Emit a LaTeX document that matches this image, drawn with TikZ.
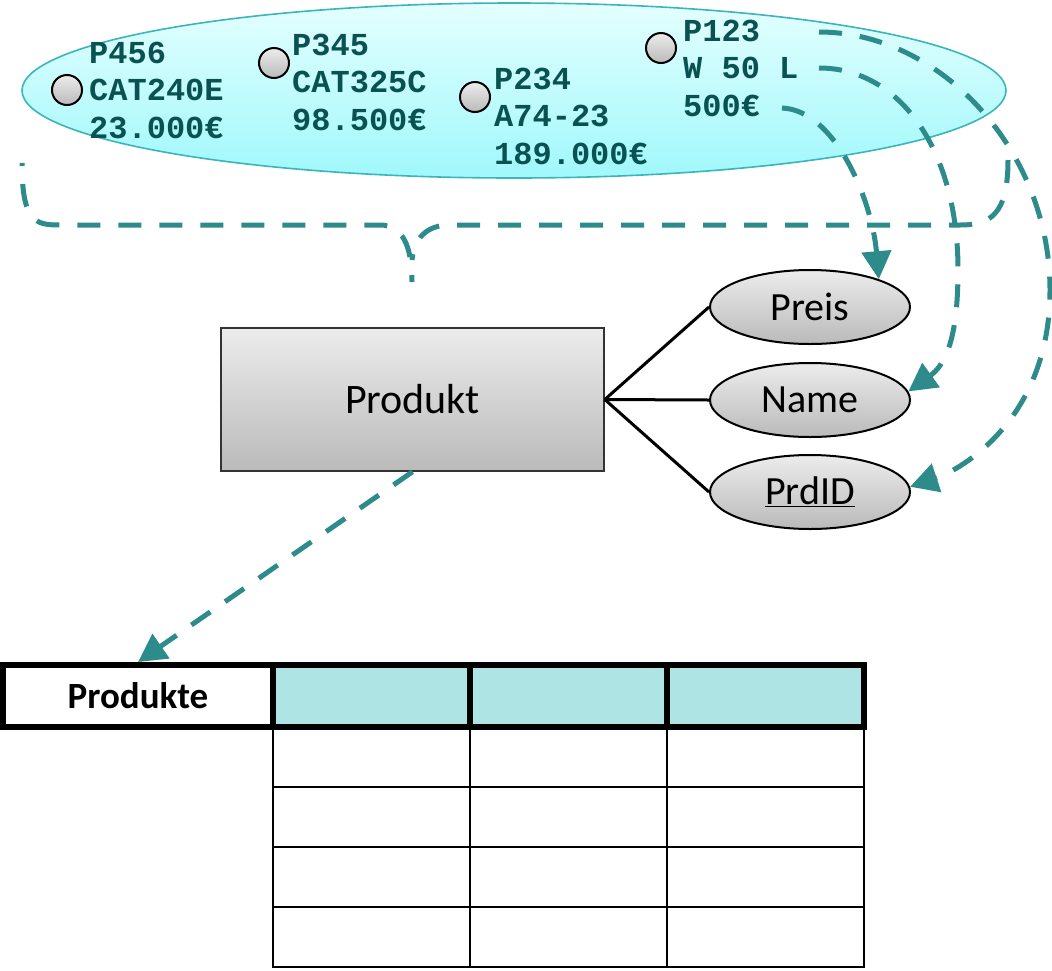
\documentclass[tikz,border=0pt]{standalone}
\usepackage{fontspec}
\setmainfont{Carlito}
\newfontfamily\codefont{Liberation Mono}
\usetikzlibrary{shapes.geometric,arrows.meta}

\definecolor{linkteal}{RGB}{46,139,139}
\definecolor{inkteal}{RGB}{10,82,82}
\definecolor{cloudtop}{RGB}{228,255,255}
\definecolor{cloudbot}{RGB}{160,248,251}
\definecolor{cloudedge}{RGB}{58,182,186}
\definecolor{greytop}{RGB}{236,236,236}
\definecolor{greybot}{RGB}{186,186,186}
\definecolor{headcyan}{RGB}{175,228,229}

\tikzset{
  pool/.style={ellipse, draw=cloudedge, line width=1.6pt, top color=cloudtop, bottom color=cloudbot},
  dot/.style={circle, draw=black, line width=2pt, minimum size=30pt, inner sep=0pt, top color=greytop, bottom color=greybot},
  rec/.style={anchor=west, align=left, inner sep=0pt, text=inkteal,
    font=\codefont\bfseries\fontsize{32}{37.5}\selectfont},
  attr/.style={ellipse, draw=black, line width=2pt, minimum width=200pt, minimum height=74pt, inner sep=0pt,
    top color=greytop, bottom color=greybot, font=\fontsize{40}{46}\selectfont},
  entity/.style={rectangle, draw=black!80, line width=1.5pt, minimum width=383pt, minimum height=143pt,
    top color=greytop, bottom color=greybot, font=\fontsize{42}{48}\selectfont},
  link/.style={draw=black, line width=3pt},
  flow/.style={draw=linkteal, line width=5pt, dash pattern=on 23pt off 18pt,
    -{Triangle[length=28pt,width=29pt]}},
  bracepath/.style={draw=linkteal, line width=5pt, dash pattern=on 23pt off 18pt},
  hcell/.style={rectangle, draw=black, line width=6pt, minimum height=62pt, inner sep=0pt,
    font=\bfseries\fontsize{37}{42}\selectfont},
  bcell/.style={rectangle, draw=black, line width=2.5pt, minimum width=197pt, minimum height=60pt, inner sep=0pt},
}

\begin{document}
\begin{tikzpicture}[x=1pt, y=-1pt]
\useasboundingbox (0,0) rectangle (1052,970);

% pool of product instances
\node[pool, minimum width=984pt, minimum height=175pt] (pool) at (514,90.5) {};

\node[dot] (d456) at (67,90) {};
\node[dot] (d345) at (274,63) {};
\node[dot] (d234) at (475,97) {};
\node[dot] (d123) at (661,48) {};

\node[rec] (t456) at (89,90) {P456\\CAT240E\\23.000€};
\node[rec] (t345) at (292,82) {P345\\CAT325C\\98.500€};
\node[rec] (t234) at (494,116) {P234\\A74-23\\189.000€};
\node[rec] (t123) at (683,68) {P123\\W 50 L\\500€};

% entity and attributes
\node[entity] (produkt) at (412.5,399.5) {Produkt};
\node[attr] (preis) at (810,307) {Preis};
\node[attr] (name) at (810,400) {Name};
\node[attr] (prdid) at (810,492) {\underline{PrdID}};

\draw[link] (produkt.east) -- (preis.west);
\draw[link] (produkt.east) -- (name.west);
\draw[link] (produkt.east) -- (prdid.west);

% table
\foreach \r/\y in {1/757,2/817,3/877,4/937}{
  \node[bcell] (c\r a) at (371.5,\y) {};
  \node[bcell] (c\r b) at (568.5,\y) {};
  \node[bcell] (c\r c) at (765.5,\y) {};
}
\node[hcell, fill=white, minimum width=270pt] (tname) at (138,696) {Produkte};
\node[hcell, fill=headcyan, minimum width=197pt] (ha) at (371.5,696) {};
\node[hcell, fill=headcyan, minimum width=197pt] (hb) at (568.5,696) {};
\node[hcell, fill=headcyan, minimum width=197pt] (hc) at (765.5,696) {};

% value mappings
\coordinate (s1) at (782,108);
\coordinate (s2) at (819,68);
\coordinate (s3) at (819,32);
\draw[flow] (s1) .. controls (835,110) and (872,200) .. (preis.22);
\draw[flow] (s2) .. controls (900,68) and (958,150) .. (958,270)
  .. controls (958,340) and (945,365) .. (name.5);
\draw[flow] (s3) .. controls (940,32) and (1050,150) .. (1050,290)
  .. controls (1050,420) and (960,470) .. (prdid.3);

% brace grouping the instances
\coordinate (bl) at (22,163);
\coordinate (br) at (1008,160);
\coordinate (bt) at (412,282);
\draw[bracepath, dash phase=20pt] (bl) .. controls (22,222) and (35,225) .. (60,225) -- (380,225)
  .. controls (402,225) and (412,245) .. (bt);
\draw[bracepath] (br) .. controls (1008,215) and (990,225) .. (960,225) -- (450,225)
  .. controls (425,225) and (414,240) .. (412,260);

% entity to table
\draw[flow] (produkt.south) -- (tname.north);
\end{tikzpicture}
\end{document}
